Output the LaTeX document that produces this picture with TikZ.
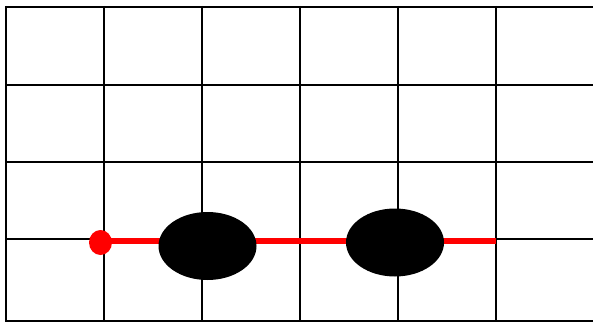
\documentclass[tikz,border=0pt]{standalone}
\usetikzlibrary{shapes.geometric}
\tikzset{
  gridline/.style={black, line width=2pt},
  redpath/.style={red, line width=5.5pt},
  blob/.style={ellipse, fill=black, draw=none, minimum width=98pt, minimum height=68pt, inner sep=0pt},
  reddot/.style={ellipse, fill=red, draw=none, minimum width=23pt, minimum height=25pt, inner sep=0pt}
}
\begin{document}
\begin{tikzpicture}[x=1pt,y=-1pt]
\useasboundingbox (0,0) rectangle (593,323);
\fill[white] (0,0) rectangle (593,323);
\foreach \x in {6,104,202,300,398,496} \draw[gridline] (\x,6) -- (\x,322);
\foreach \y in {7,85,162,239,321} \draw[gridline] (5,\y) -- (593,\y);
\coordinate (e) at (496,241);
\node[reddot] (d) at (100.5,242.5) {};
\draw[redpath] (d.center |- e) -- (e);
\node[blob] (b1) at (207.5,246) {};
\node[blob] (b2) at (395,242.5) {};
\end{tikzpicture}
\end{document}
